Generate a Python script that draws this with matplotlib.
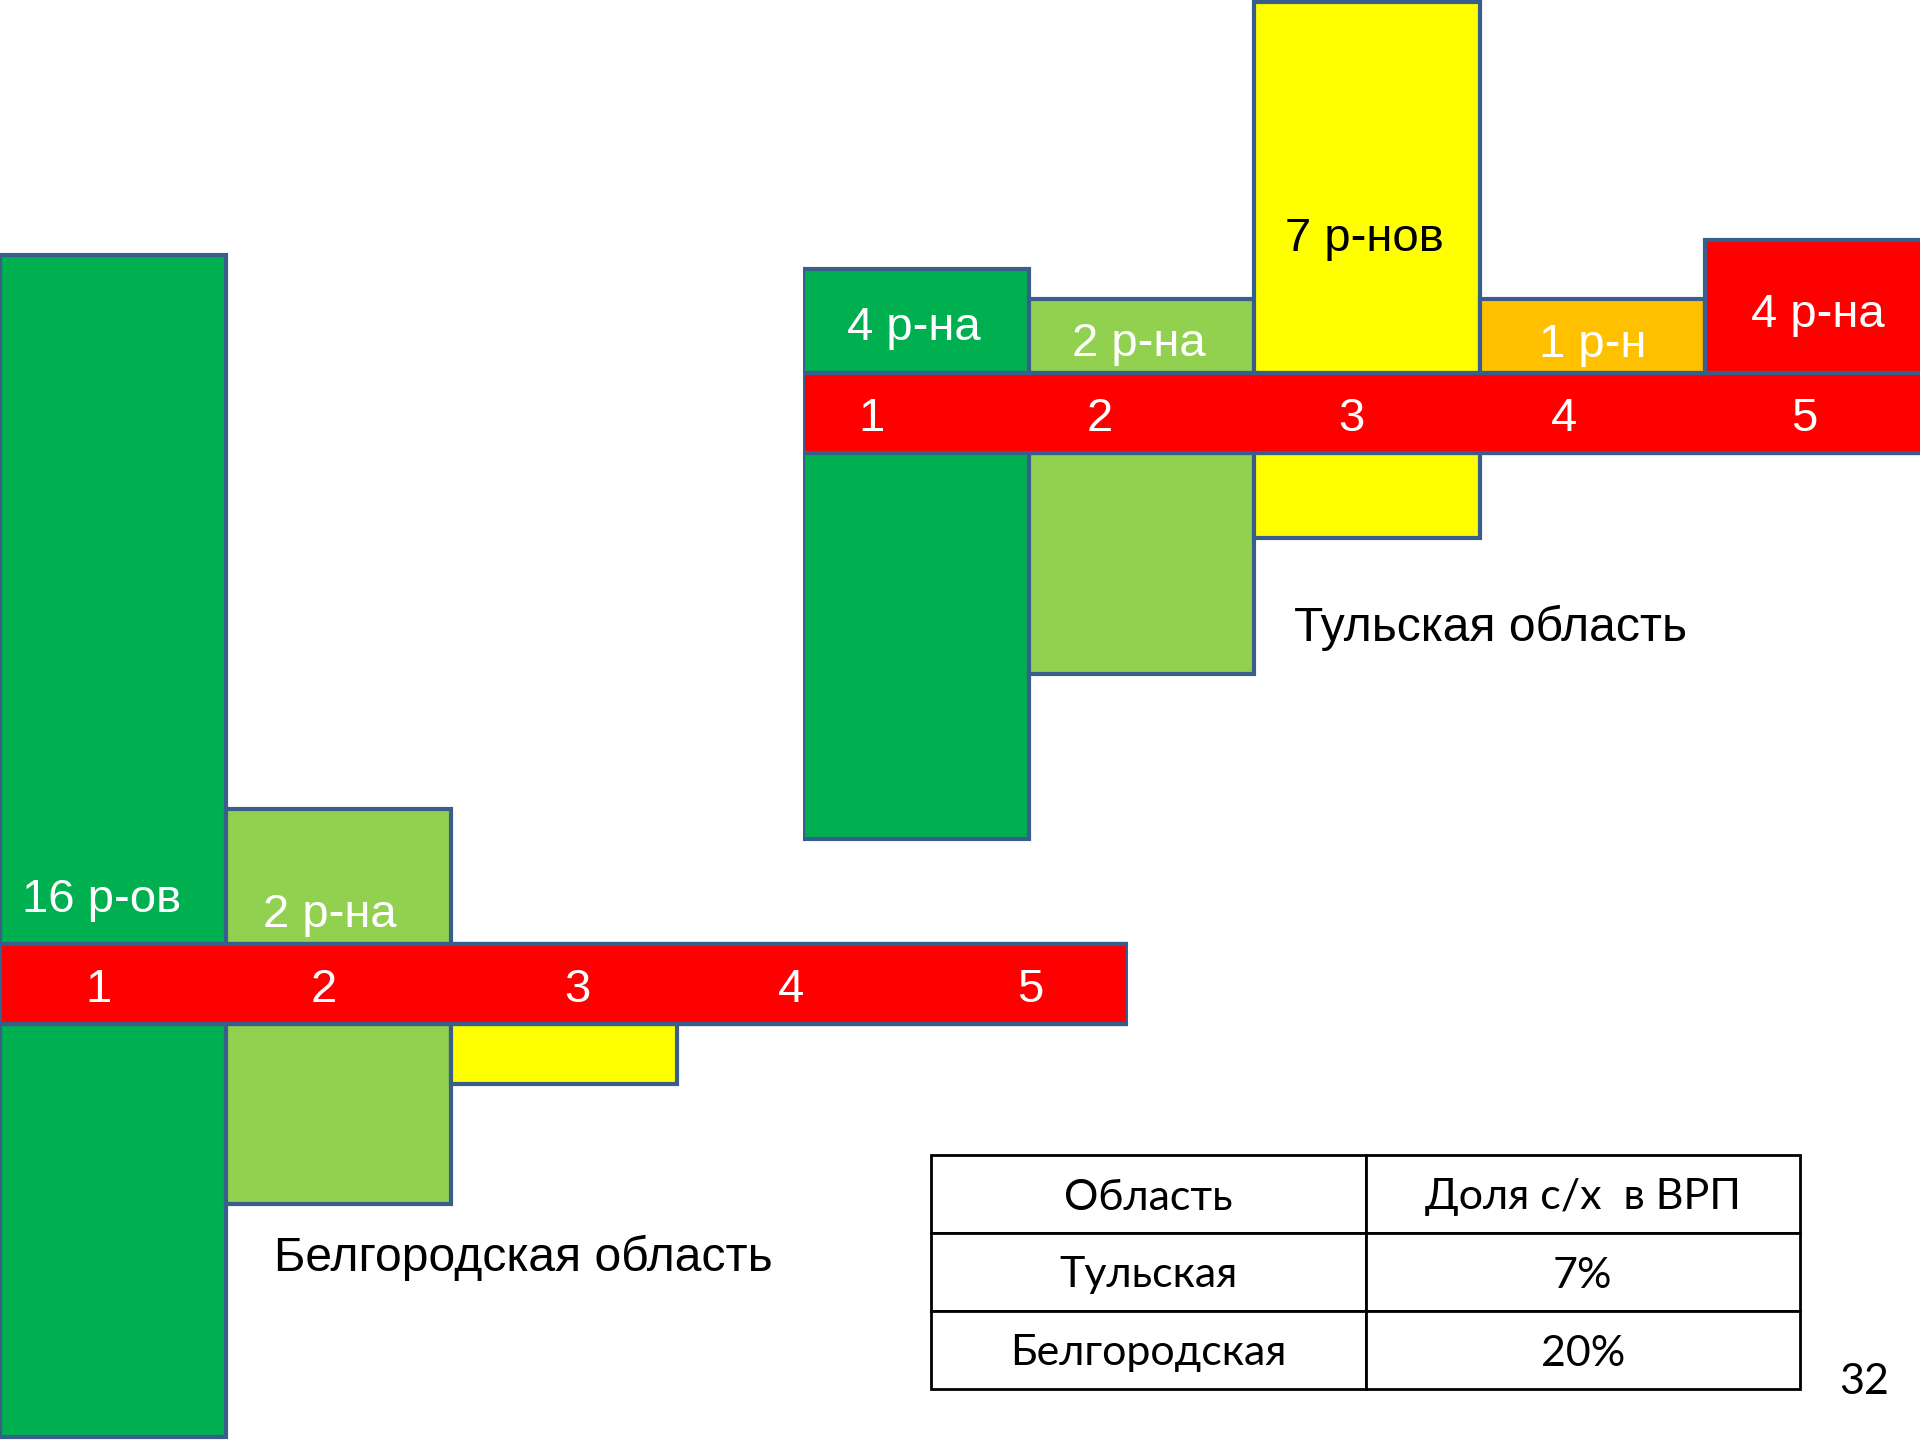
import matplotlib.pyplot as plt

# categories shared by both regions
cats = [1, 2, 3, 4, 5]
bar_colors = ['#00B050', '#92D050', '#FFFF00', '#FFC000', '#FF0000']

# heights above / below the red strip (pixels)
belg_up = [689, 135, 0, 0, 0]
belg_down = [413, 180, 60, 0, 0]
belg_labels = ['16 р-ов', '2 р-на', '', '', '']

tula_up = [104, 74, 371, 74, 133]
tula_down = [386, 221, 85, 0, 0]
tula_labels = ['4 р-на', '2 р-на', '7 р-нов', '1 р-н', '4 р-на']
tula_label_colors = ['white', 'white', 'black', 'white', 'white']

strip_h = 80

table_cols = ['Область', 'Доля с/х  в ВРП']
table_rows = [['Тульская', '7%'], ['Белгородская', '20%']]

W, H = 1920, 1440
EDGE = '#3A5E8C'
FONT = 'Liberation Sans'
TFONT = 'Lato'


def draw_region(ax, up, down, labels, label_y, label_colors, num_dx, lab_dx):
    ax.bar(cats, up, width=1, bottom=0, color=bar_colors, edgecolor=EDGE,
           linewidth=3, zorder=2)
    ax.bar(cats, [-d for d in down], width=1, bottom=-strip_h, color=bar_colors,
           edgecolor=EDGE, linewidth=3, zorder=2)
    # red strip with category numbers
    ax.bar(sum(cats) / len(cats), -strip_h, width=len(cats), bottom=0,
           color='#FF0000', edgecolor=EDGE, linewidth=3, zorder=3)
    for c, dx in zip(cats, num_dx):
        ax.text(c + dx, -strip_h / 2 - 6, str(c), color='white', fontsize=34,
                family=FONT, ha='center', va='center', zorder=4)
    for c, lab, ly, lc, dx in zip(cats, labels, label_y, label_colors, lab_dx):
        if lab:
            ax.text(c + dx, ly - 5, lab, color=lc, fontsize=34, family=FONT,
                    ha='center', va='center', zorder=4)
    ax.set_xlim(0.5, 5.5)
    ax.axis('off')


fig = plt.figure(figsize=(19.2, 14.4), dpi=100)

bar_w = 225.6
# Belgorod: strip top at 944 px from top
ax_b = fig.add_axes([0, 0, 5 * bar_w / W, 1])
ax_b.set_ylim(-(H - 944), 944)
draw_region(ax_b, belg_up, belg_down, belg_labels, [49, 34, 0, 0, 0],
            ['white'] * 5, [-0.065, -0.065, 0.06, 0.005, 0.065],
            [-0.05, -0.04, 0, 0, 0])

# Tula: strip top at 373 px from top
ax_t = fig.add_axes([803 / W, 0, 5 * bar_w / W, 1])
ax_t.set_ylim(-(H - 373), 373)
draw_region(ax_t, tula_up, tula_down, tula_labels, [50, 34, 139, 33, 63],
            tula_label_colors, [-0.195, -0.184, -0.07, -0.125, -0.06],
            [-0.01, -0.01, -0.01, 0, 0])

fig.text(274 / W, 1 - 1258 / H, 'Белгородская область', fontsize=34.6,
         family=FONT, ha='left', va='center')
fig.text(1294 / W, 1 - 628 / H, 'Тульская область', fontsize=34.6,
         family=FONT, ha='left', va='center')

tab = fig.add_axes([931 / W, 1 - 1389 / H, (1800 - 931) / W, (1389 - 1155) / H])
tab.axis('off')
t = tab.table(cellText=table_rows, colLabels=table_cols, cellLoc='center',
              bbox=[0, 0, 1, 1])
t.auto_set_font_size(False)
for (r, c), cell in t.get_celld().items():
    cell.set_edgecolor('black')
    cell.set_linewidth(2)
    txt = cell.get_text()
    txt.set_fontsize(31)
    txt.set_fontfamily(TFONT)
    txt.set_va('center_baseline')

fig.text(1864 / W, 1 - 1382 / H, '32', fontsize=31, family=TFONT,
         ha='center', va='center')

fig.savefig('out.png', dpi=100)
